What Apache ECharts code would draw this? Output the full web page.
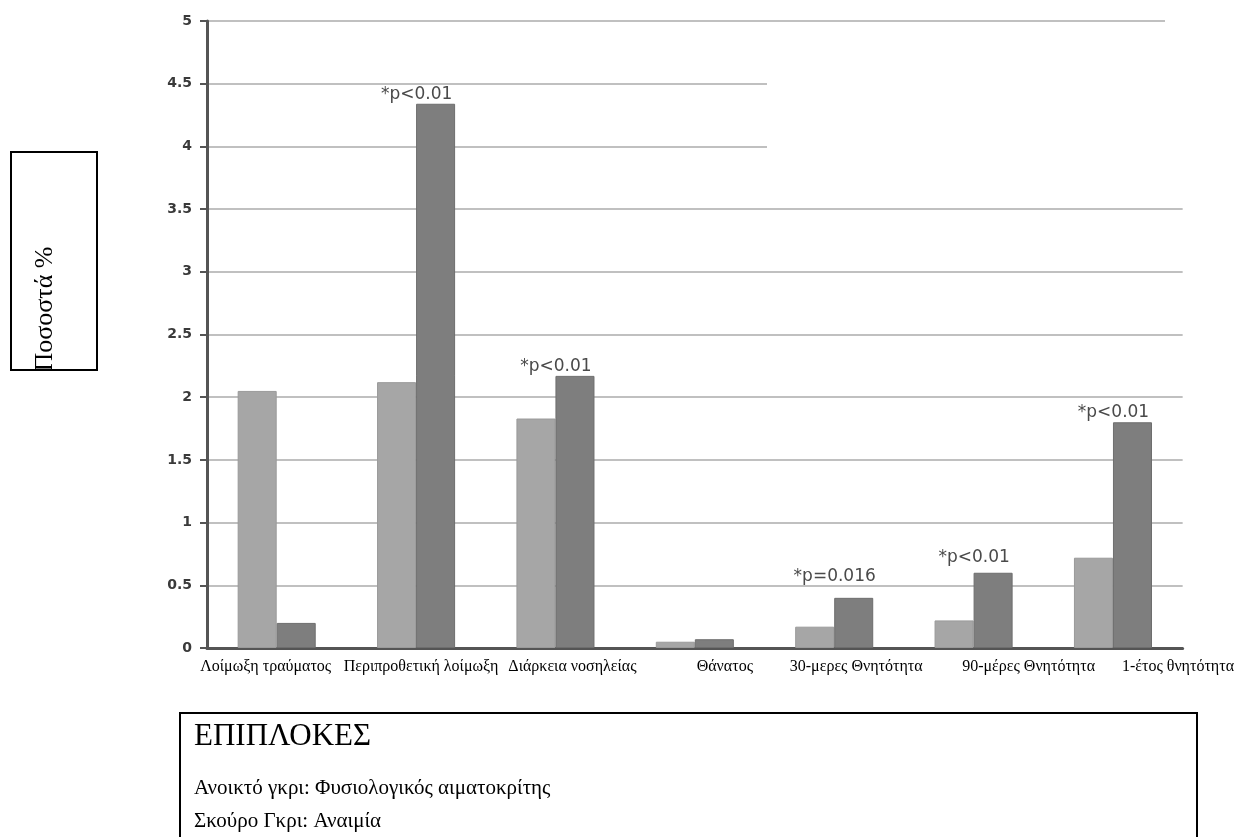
<!DOCTYPE html>
<html>
<head>
<meta charset="utf-8">
<script src="https://cdn.jsdelivr.net/npm/echarts@6/dist/echarts.min.js"></script>
<style>
  html, body { margin: 0; padding: 0; background: #ffffff; }
  #chart { width: 1237px; height: 837px; }
</style>
</head>
<body>
<div id="chart"></div>
<script>
// Complications by haematocrit status (percent)
const categories = [
  'Λοίμωξη τραύματος',
  'Περιπροθετική λοίμωξη',
  'Διάρκεια νοσηλείας',
  'Θάνατος',
  '30-μερες Θνητότητα',
  '90-μέρες Θνητότητα',
  '1-έτος θνητότητα'
];
// Light grey: normal haematocrit
const normalHct = [2.05, 2.12, 1.83, 0.05, 0.17, 0.22, 0.72];
// Dark grey: anaemia
const anaemia = [0.20, 4.34, 2.17, 0.07, 0.40, 0.60, 1.80];
// Significance notes above the anaemia bars
const pNotes = ['', '*p<0.01', '*p<0.01', '', '*p=0.016', '*p<0.01', '*p<0.01'];

const yTicks = { min: 0, max: 5, interval: 0.5 };

// horizontal nudges of the category names under the axis
const labelShift = [-11, 5, 17, 30, 22, 55, 65];
// extra lift of some notes above their bars
const noteLift = [0, 0, 0, 0, -12, -6, 0];

const chart = echarts.init(document.getElementById('chart'), null, { renderer: 'canvas' });

const catData = categories.map((c, i) => {
  const s = labelShift[i];
  return {
    value: c,
    textStyle: { padding: s >= 0 ? [0, 0, 0, 2 * s] : [0, -2 * s, 0, 0] }
  };
});

const darkData = anaemia.map((v, i) => {
  if (!pNotes[i]) return v;
  return {
    value: v,
    label: {
      show: true,
      position: 'top',
      distance: 1,
      offset: [-19, noteLift[i]],
      formatter: () => pNotes[i]
    }
  };
});

const serif = '"Liberation Serif", "DejaVu Serif", serif';
const sans = '"DejaVu Sans", sans-serif';

chart.setOption({
  animation: false,
  backgroundColor: '#ffffff',
  grid: { left: 207, right: 54, top: 21, bottom: 189, containLabel: false },
  xAxis: {
    type: 'category',
    data: catData,
    axisLine: { show: true, lineStyle: { color: '#555555', width: 3 } },
    axisTick: { show: false },
    axisLabel: {
      interval: 0,
      margin: 11,
      color: '#000000',
      fontFamily: serif,
      fontSize: 16
    },
    splitLine: { show: false }
  },
  yAxis: {
    type: 'value',
    min: yTicks.min,
    max: yTicks.max,
    interval: yTicks.interval,
    axisLine: { show: true, lineStyle: { color: '#555555', width: 3 } },
    axisTick: { show: true, length: 7, lineStyle: { color: '#555555', width: 2 } },
    axisLabel: {
      margin: 15,
      color: '#3a3a3a',
      fontFamily: sans,
      fontWeight: 'bold',
      fontSize: 14
    },
    splitLine: { show: true, lineStyle: { color: '#c0c0c0', width: 2 } }
  },
  series: [
    {
      name: 'Ανοικτό γκρι',
      type: 'bar',
      data: normalHct,
      barGap: '0%',
      barCategoryGap: '44%',
      itemStyle: { color: '#a6a6a6', borderColor: '#9a9a9a', borderWidth: 1 },
      z: 2
    },
    {
      name: 'Σκούρο Γκρι',
      type: 'bar',
      data: darkData,
      barGap: '0%',
      barCategoryGap: '44%',
      itemStyle: { color: '#7e7e7e', borderColor: '#6e6e6e', borderWidth: 1 },
      label: {
        color: '#4a4a4a',
        fontFamily: sans,
        fontSize: 17
      },
      z: 2
    }
  ],
  graphic: [
    // blank patches where the upper grid lines stop short
    { type: 'rect', z: 1, silent: true, shape: { x: 767, y: 70, width: 430, height: 90 }, style: { fill: '#ffffff' } },
    { type: 'rect', z: 1, silent: true, shape: { x: 1165, y: 14, width: 30, height: 14 }, style: { fill: '#ffffff' } },
    // boxed y-axis title
    { type: 'rect', z: 10, shape: { x: 11, y: 152, width: 86, height: 218 }, style: { fill: 'none', stroke: '#000000', lineWidth: 2 } },
    {
      type: 'text', z: 10, x: 45, y: 309, rotation: Math.PI / 2,
      style: { text: 'Ποσοστά %', fontFamily: serif, fontSize: 26, fill: '#000000', align: 'center', verticalAlign: 'middle' }
    },
    // key box
    { type: 'rect', z: 10, shape: { x: 180, y: 713, width: 1017, height: 140 }, style: { fill: 'none', stroke: '#000000', lineWidth: 2 } },
    { type: 'text', z: 10, x: 194, y: 737, style: { text: 'ΕΠΙΠΛΟΚΕΣ', fontFamily: serif, fontSize: 31, fill: '#000000', verticalAlign: 'middle' } },
    { type: 'text', z: 10, x: 194, y: 788, style: { text: 'Ανοικτό γκρι: Φυσιολογικός αιματοκρίτης', fontFamily: serif, fontSize: 21, fill: '#000000', verticalAlign: 'middle' } },
    { type: 'text', z: 10, x: 194, y: 821, style: { text: 'Σκούρο Γκρι: Αναιμία', fontFamily: serif, fontSize: 21, fill: '#000000', verticalAlign: 'middle' } }
  ]
});
</script>
</body>
</html>
